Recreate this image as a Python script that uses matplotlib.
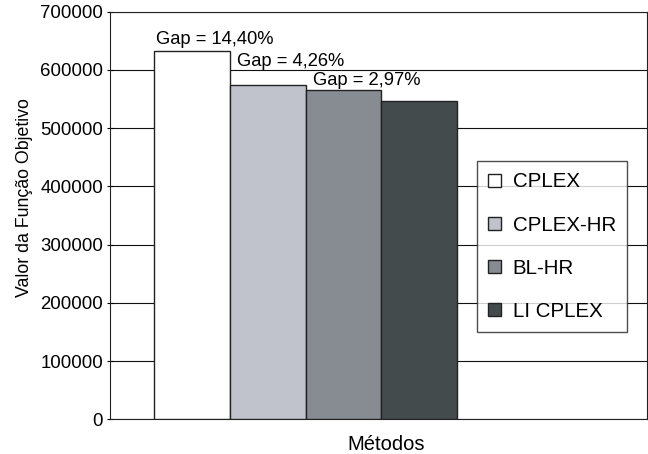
import matplotlib.pyplot as plt
import numpy as np

plt.rcParams['font.family'] = ['Liberation Sans', 'DejaVu Sans']

# data
methods = ['CPLEX', 'CPLEX-HR', 'BL-HR', 'LI CPLEX']
values = [631700, 573300, 565900, 547000]
colors = ['#ffffff', '#c0c3cb', '#878c93', '#444b4d']
gap_labels = ['Gap = 14,40%', 'Gap = 4,26%', 'Gap = 2,97%']
yticks = [0, 100000, 200000, 300000, 400000, 500000, 600000, 700000]

fig = plt.figure(figsize=(6.48, 4.54), dpi=100)
# plot area in pixels: x 110..647, y 11.7..419.3
ax = fig.add_axes([110/648, 1-419.3/454, 537/648, 407.6/454])

x = np.arange(len(methods))
for i in range(len(methods)):
    ax.bar(x[i], values[i], width=1.0, color=colors[i], edgecolor='#222222',
           linewidth=1.0, label=methods[i], zorder=3)

# gap labels, anchored at the top-left corner of the first three bars
offsets = [(1.2, 5.3), (5, 13.7), (5, 3.6)]
for i, txt in enumerate(gap_labels):
    ax.annotate(txt, (x[i] - 0.5, values[i]), xytext=offsets[i], textcoords='offset points',
                ha='left', va='baseline', fontsize=13.2, zorder=4)

ax.set_xlim(-1.085, 6.009)
ax.set_ylim(0, 700000)
ax.set_yticks(yticks)
ax.set_yticklabels([str(v) for v in yticks], fontsize=13.4)
ax.set_xticks([])
ax.yaxis.grid(True, color='#111111', linewidth=0.8, zorder=0)
ax.set_axisbelow(True)
ax.tick_params(axis='y', direction='inout', length=5, width=0.8, pad=2.5)
for s in ax.spines.values():
    s.set_linewidth(0.8)
    s.set_color('#222222')

ax.set_ylabel('Valor da Função Objetivo', fontsize=12.8)
ax.yaxis.set_label_coords(-0.143, 0.544)
ax.set_xlabel('Métodos', fontsize=14.5)
ax.xaxis.set_label_coords((386-110)/537, -0.0385)

leg = ax.legend(loc='upper left', bbox_to_anchor=((477-110)/537, (419.3-161)/407.6),
                fontsize=14.8, frameon=True, fancybox=False, edgecolor='#222222',
                handlelength=0.6, handleheight=0.6, handletextpad=0.58,
                labelspacing=1.18, borderpad=0.55, borderaxespad=0)
leg.get_frame().set_linewidth(1.0)
leg.set_zorder(5)

fig.savefig('out.png', dpi=100)
